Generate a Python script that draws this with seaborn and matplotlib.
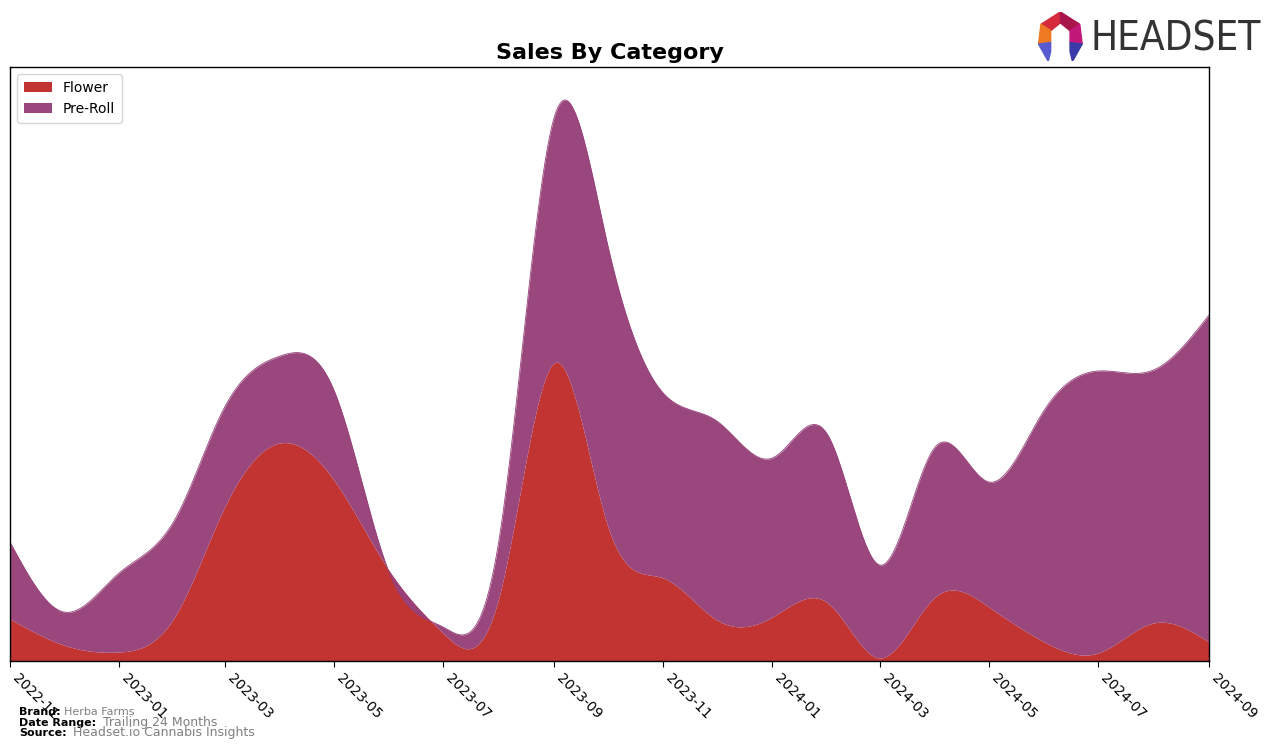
import numpy as np
import pandas as pd
import matplotlib
matplotlib.use("Agg")
import matplotlib.pyplot as plt
import matplotlib.dates as mdates
from matplotlib.patches import Polygon
import seaborn as sns

months = pd.date_range("2022-11-01", "2024-09-01", freq="MS")
flower = [42, 16, 9, 44, 154, 218, 181, 90, 28, 62, 298, 135, 83, 41, 44, 58, 3, 64, 54, 19, 8, 38, 19]
total = [119, 49, 88, 141, 254, 305, 271, 88, 34, 118, 543, 416, 268, 240, 203, 226, 96, 214, 179, 251, 290, 291, 346]
preroll = [t - f for t, f in zip(total, flower)]
categories = ["Flower", "Pre-Roll"]
colors = ["#c13432", "#97417a"]


def natural_spline(x, y, xs):
    x = np.asarray(x, float); y = np.asarray(y, float)
    n = len(x)
    h = np.diff(x)
    A = np.zeros((n, n)); b = np.zeros(n)
    A[0, 0] = 1; A[-1, -1] = 1
    for i in range(1, n - 1):
        A[i, i - 1] = h[i - 1]
        A[i, i] = 2 * (h[i - 1] + h[i])
        A[i, i + 1] = h[i]
        b[i] = 3 * ((y[i + 1] - y[i]) / h[i] - (y[i] - y[i - 1]) / h[i - 1])
    c = np.linalg.solve(A, b)
    bb = np.zeros(n - 1); d = np.zeros(n - 1)
    for i in range(n - 1):
        bb[i] = (y[i + 1] - y[i]) / h[i] - h[i] * (2 * c[i] + c[i + 1]) / 3
        d[i] = (c[i + 1] - c[i]) / (3 * h[i])
    idx = np.clip(np.searchsorted(x, xs) - 1, 0, n - 2)
    dx = xs - x[idx]
    return y[idx] + bb[idx] * dx + c[idx] * dx ** 2 + d[idx] * dx ** 3


xnum = mdates.date2num(months)
xs = np.linspace(xnum[0], xnum[-1], 1500)
f_s = natural_spline(xnum, flower, xs)
p_s = natural_spline(xnum, preroll, xs)
top_s = f_s + p_s

sns.set_style("white", {"axes.edgecolor": "black", "text.color": "black",
                        "xtick.color": "black", "ytick.color": "black",
                        "axes.labelcolor": "black"})
plt.rcParams["font.family"] = ["DejaVu Sans"]

fig = plt.figure(figsize=(12.76, 7.48), dpi=100)
ax = fig.add_axes([0.0078, 0.1163, 0.9397, 0.7941])

ax.fill_between(xs, 0, f_s, color=colors[0], linewidth=0, label=categories[0])
ax.fill_between(xs, f_s, top_s, color=colors[1], linewidth=0, label=categories[1], alpha=0.97)
sm = pd.DataFrame({"x": xs, "y": top_s})
sns.lineplot(data=sm, x="x", y="y", ax=ax, color=colors[1], linewidth=0.6, legend=False)

ax.set_xlim(xnum[0], xnum[-1])
ax.set_ylim(0, 594)
ax.set_yticks([])
ax.set_xlabel(""); ax.set_ylabel("")
ticks = months[::2]
ax.set_xticks(mdates.date2num(ticks))
ax.set_xticklabels([d.strftime("%Y-%m") for d in ticks], rotation=-45, ha="left", fontsize=10)
ax.tick_params(axis="x", length=4, color="black", direction="out", bottom=True, labelcolor="black")
for s in ax.spines.values():
    s.set_color("black"); s.set_linewidth(1)

ax.set_title("Sales By Category", fontsize=16, fontweight="bold", pad=6, color="black")
leg = ax.legend(loc="upper left", fontsize=10, frameon=True, handlelength=2.0,
                borderpad=0.5, labelspacing=0.5)
for t in leg.get_texts():
    t.set_color("black")

# footer
fig.text(0.015, 0.044, "Brand:", fontsize=8, fontweight="bold", color="black")
fig.text(0.050, 0.044, "Herba Farms", fontsize=8, color="grey")
fig.text(0.015, 0.030, "Date Range:", fontsize=8, fontweight="bold", color="black")
fig.text(0.081, 0.030, "Trailing 24 Months", fontsize=9, color="grey")
fig.text(0.015, 0.016, "Source:", fontsize=8, fontweight="bold", color="black")
fig.text(0.057, 0.016, "Headset.io Cannabis Insights", fontsize=9, color="grey")

# logo
fig.text(0.855, 0.947, "HEADSET", fontsize=29, color="#333333", va="center", ha="left",
         family="DejaVu Sans", fontstretch="condensed")
lax = fig.add_axes([0.812, 0.918, 0.038, 0.066])
lax.set_xlim(0, 1); lax.set_ylim(0, 1); lax.axis("off")
polys = [
    ([(0.1, 0.75), (0.5, 1.0), (0.5, 0.78), (0.3, 0.62)], "#d42a3c"),
    ([(0.5, 1.0), (0.9, 0.75), (0.7, 0.62), (0.5, 0.78)], "#a8154a"),
    ([(0.1, 0.75), (0.3, 0.62), (0.3, 0.38), (0.05, 0.35)], "#f07a24"),
    ([(0.9, 0.75), (0.7, 0.62), (0.7, 0.38), (0.95, 0.35)], "#c2187a"),
    ([(0.05, 0.35), (0.3, 0.38), (0.3, 0.2), (0.25, 0.0)], "#5a5ad0"),
    ([(0.95, 0.35), (0.7, 0.38), (0.7, 0.2), (0.75, 0.0)], "#3a3aa8"),
]
for pts, c in polys:
    lax.add_patch(Polygon(pts, closed=True, color=c))

fig.savefig("out.png", dpi=100)
